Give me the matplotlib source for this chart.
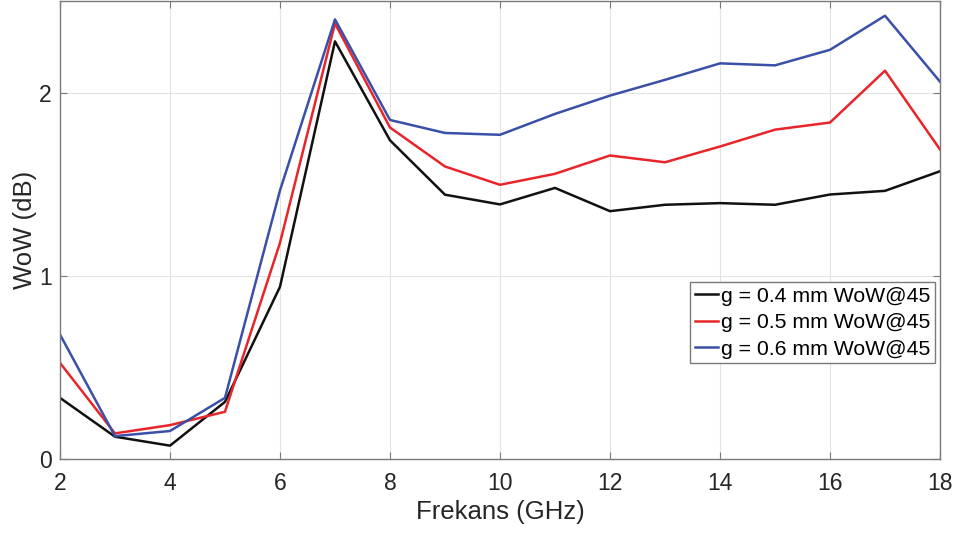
import matplotlib
matplotlib.use("Agg")
import matplotlib.pyplot as plt

plt.rcParams['font.family'] = ['Liberation Sans', 'DejaVu Sans']

freq = [2, 3, 4, 5, 6, 7, 8, 9, 10, 11, 12, 13, 14, 15, 16, 17, 18]
wow_g04 = [0.334, 0.122, 0.073, 0.312, 0.94, 2.28, 1.74, 1.443, 1.39, 1.48, 1.353,
           1.388, 1.397, 1.388, 1.444, 1.464, 1.571]
wow_g05 = [0.525, 0.14, 0.185, 0.258, 1.18, 2.378, 1.81, 1.597, 1.497, 1.557, 1.657,
           1.62, 1.706, 1.798, 1.837, 2.12, 1.69]
wow_g06 = [0.68, 0.125, 0.153, 0.334, 1.466, 2.40, 1.851, 1.78, 1.77, 1.884, 1.984,
           2.07, 2.16, 2.149, 2.234, 2.42, 2.06]
labels = ['g = 0.4 mm WoW@45', 'g = 0.5 mm WoW@45', 'g = 0.6 mm WoW@45']
colors = ['#111111', '#e8252b', '#3a50a8']

fig = plt.figure(figsize=(9.55, 5.35), dpi=100)
ax = fig.add_axes([0.0628, 0.142, 0.9215, 0.856])

for ys, lab, c in zip([wow_g04, wow_g05, wow_g06], labels, colors):
    ax.plot(freq, ys, color=c, lw=1.8, label=lab)

ax.set_xlim(2, 18)
ax.set_ylim(0, 2.5)
ax.set_xticks(range(2, 19, 2))
ax.set_yticks([0, 1, 2])
ax.grid(True, color='#e3e3e3', lw=0.8)
ax.set_axisbelow(True)
for s in ax.spines.values():
    s.set_color('#7a7a7a')
    s.set_linewidth(1.0)
ax.tick_params(direction='in', top=True, right=True, length=5, width=0.8,
               color='#7a7a7a', labelsize=16.5, labelcolor='#262626')
ax.tick_params(axis='x', pad=9)
ax.tick_params(axis='y', pad=6)
ax.set_xlabel('Frekans (GHz)', fontsize=18.5, color='#262626', labelpad=4)
ax.set_ylabel('WoW (dB)', fontsize=18.5, color='#262626', labelpad=1.5)

leg = ax.legend(loc='lower right', bbox_to_anchor=(0.994, 0.21), fontsize=15.3,
                handlelength=1.1, handletextpad=0.15, borderpad=0.2,
                labelspacing=0.35, fancybox=False, framealpha=1, borderaxespad=0)
leg.get_frame().set_edgecolor('#7a7a7a')
leg.get_frame().set_linewidth(1.0)

fig.savefig('out.png', dpi=100)
